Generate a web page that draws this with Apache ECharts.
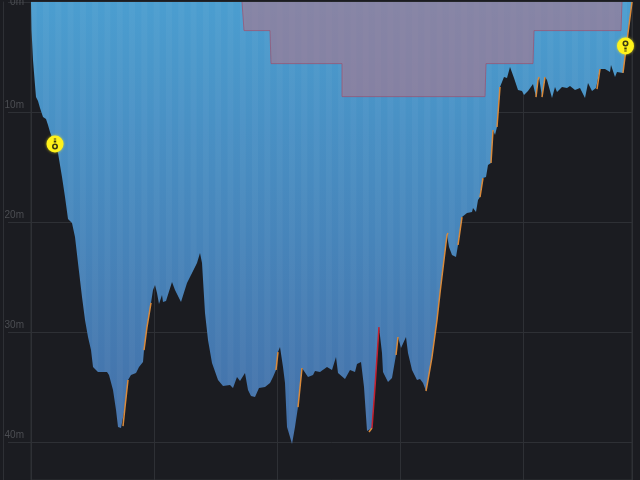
<!DOCTYPE html>
<html>
<head>
<meta charset="utf-8">
<style>
  html, body { margin: 0; padding: 0; background: #1b1c21; overflow: hidden; }
  #chart { width: 640px; height: 480px; }
</style>
<script src="https://cdn.jsdelivr.net/npm/echarts@6/dist/echarts.min.js"></script>
</head>
<body>
<div id="chart"></div>
<script>
// dive profile, one sample is about 5 s
var samples = [0,0.5,2,4,5,7,9,12,15,17,19,22,27,31,34,37,41,44,47,51,54,57,60,62,67,71,73,76,78,80,82,85,87,90,92,94,97,100,102,105,108,112,113,116,120,122,124,126,128,131,132,135,141,144,150,156,160,162,166,169,171,174,177,181,187,192,199,202,206,209,214,217,220,224,228,234,239,242,245,247,249,252,254,256,259,261,264,267,271,272,277,282,284,289,296,301,305,307,314,319,324,326,330,333,336,338,341,344,348,351,352,357,361,363,365,367,370,372,375,377,381,386,389,392,395,397,401,406,409,416,417,418,421,425,427,431,436,441,442,445,447,449,452,455,457,460,462,464,466,469,471,473,476,479,481,483,487,491,493,497,502,505,507,508,511,514,516,521,524,526,531,536,539,544,549,554,557,561,565,566,569,574,579,580,584,586,592,594,597,601];
var depths = [0,2.55,5.27,7.55,8.64,9,9.64,10.45,10.64,11.18,11.82,12.55,13.73,15.91,17.73,19.73,20.09,21.36,23.73,26.82,28.91,30.45,31.64,33.18,33.64,33.64,33.82,33.64,33.91,33.91,35.27,37.09,38.64,38.73,38.55,36.82,34.36,33.91,34.09,33.73,33.18,32.73,31.64,29.55,27.36,26.18,25.73,26.45,27.45,26.64,27.27,27.18,25.45,26.18,27.27,25.55,24.82,24.64,23.73,22.82,23.73,28.27,30.73,32.82,34.36,34.91,34.82,35.09,34.09,34.45,33.73,35.27,35.82,35.91,35.09,35,34.64,34.09,33.45,31.82,31.36,33.18,34.64,38.64,39.55,40.18,38.64,36.82,33.27,33.27,34.09,33.91,33.55,33.64,33.18,33.45,32.27,33.73,34.27,33.45,33.64,32.91,32.73,35,39,39.09,38.73,35,29.55,31.91,33.64,34.55,34.18,34.09,32.09,30.45,31.45,31.55,30.45,31.91,33.45,34.36,34.27,34.64,35.36,34.36,32.27,28.91,26.45,21.18,21,22.27,23,23.18,22.09,19.55,19.18,19.09,18.73,19.09,18,17.73,16,15.91,14.82,14.64,11.64,12.09,11.36,7.73,7.55,6.82,6.91,5.91,5.73,6.91,8,8.09,8.45,8.09,7.45,8.64,7.09,6.82,8.64,6.82,7.09,8.73,7.73,8.18,7.73,7.82,7.64,8,7.82,8.73,7.36,8.09,7.82,7.91,6.09,6.09,6.36,5.73,6.82,6.36,6.45,5,2.82,0];

// deco ceiling
var ceilingSamples = [211,213,239,240,311,311,454,455,502,503,590,591];
var ceilingDepths = [0,2.6,2.6,5.6,5.6,8.6,8.6,5.6,5.6,2.6,2.6,0];

// ascent rate warnings
var fastRanges = [[92,97],[113,120],[245,247],[267,271],[338,341],[365,367],[395,417],[427,431],[449,452],[460,462],[466,469],[505,508],[511,514],[566,569],[592,601]];
var tooFastRanges = [[341,348]];

// gas switches
var markerSamples = [24,594.5];
var markerDepths = [12.91,4];
var markerRotate = [0,180];

var depthTicks = 10;
var bottle = 'path://M0 8a3 3 0 1 0 6 0a3 3 0 1 0 -6 0zM1.6 8a1.4 1.4 0 1 1 2.8 0a1.4 1.4 0 1 1 -2.8 0zM1.8 0h2.4v1h-2.4zM1.8 2h2.4v2h-2.4z';

function pairs(xs, ys) {
  return xs.map(function (x, i) { return [x, ys[i]]; });
}

function pickRanges(ranges) {
  var out = [];
  ranges.forEach(function (r) {
    samples.forEach(function (s, i) {
      if (s >= r[0] && s <= r[1]) out.push([s, depths[i]]);
    });
    out.push([r[1], '-']);
  });
  return out;
}

// water fill: vertical gradient with faint stripes, 10 stripes per grid cell
function waterPattern() {
  var c = document.createElement('canvas');
  c.width = 123;
  c.height = 480;
  var g = c.getContext('2d');
  var grad = g.createLinearGradient(0, 0, 0, 480);
  grad.addColorStop(0, '#4b9ed0');
  grad.addColorStop(1, '#436ba4');
  g.fillStyle = grad;
  g.fillRect(0, 0, 123, 480);
  g.fillStyle = 'rgba(255,255,255,0.035)';
  for (var i = 0; i < 10; i++) {
    g.fillRect(i * 12.3 + 6, 0, 6.15, 480);
  }
  return c;
}

var chart = echarts.init(document.getElementById('chart'));
var lineColor = '#2e3035';

chart.setOption({
  animation: false,
  backgroundColor: '#1b1c21',
  grid: { left: 31, right: 8, top: 2, bottom: 0, outerBoundsMode: 'none', show: true, borderColor: lineColor, borderWidth: 1 },
  xAxis: {
    type: 'value',
    min: 0,
    max: 601,
    interval: 123,
    axisLine: { show: false },
    axisTick: { show: false },
    axisLabel: { show: false },
    splitLine: { show: true, lineStyle: { color: lineColor, width: 1 } }
  },
  yAxis: [{
    type: 'value',
    inverse: true,
    min: 0,
    max: 43.45,
    interval: depthTicks,
    axisLine: { show: false },
    axisTick: { show: true, length: 23, lineStyle: { color: lineColor } },
    axisLabel: {
      formatter: '{value}m',
      color: '#4b4d52',
      fontFamily: 'Liberation Sans',
      fontSize: 10,
      margin: 7,
      verticalAlign: 'bottom',
      verticalAlignMinLabel: 'middle',
      padding: [0, 0, 2, 0],
      showMaxLabel: false
    },
    splitLine: { show: true, lineStyle: { color: lineColor, width: 1 } }
  }, {
    // far left rule
    type: 'value',
    inverse: true,
    min: 0,
    max: 43.45,
    position: 'left',
    offset: 28,
    axisLine: { show: true, lineStyle: { color: lineColor } },
    axisTick: { show: false },
    axisLabel: { show: false },
    splitLine: { show: false }
  }],
  series: [{
    name: 'depth',
    type: 'line',
    data: pairs(samples, depths),
    symbol: 'none',
    lineStyle: { width: 0 },
    areaStyle: { color: { image: waterPattern(), repeat: 'repeat' }, opacity: 1 },
    z: 2
  }, {
    name: 'ceiling',
    type: 'line',
    data: pairs(ceilingSamples, ceilingDepths),
    symbol: 'none',
    lineStyle: { width: 1, color: 'rgba(160,80,110,0.7)' },
    areaStyle: { color: 'rgba(173,117,138,0.6)', opacity: 1 },
    z: 3
  }, {
    name: 'ascent fast',
    type: 'line',
    data: pickRanges(fastRanges),
    symbol: 'none',
    connectNulls: false,
    lineStyle: { width: 1.5, color: '#d98a3c' },
    z: 4
  }, {
    name: 'ascent too fast',
    type: 'line',
    data: pickRanges(tooFastRanges),
    symbol: 'none',
    connectNulls: false,
    lineStyle: { width: 1.5, color: '#c4202e' },
    z: 4
  }, {
    name: 'gas switch',
    type: 'scatter',
    data: pairs(markerSamples, markerDepths),
    symbol: 'circle',
    symbolSize: 17,
    itemStyle: { color: '#fff21a', opacity: 1, shadowBlur: 3, shadowColor: 'rgba(255,242,26,0.7)' },
    z: 5
  }, {
    name: 'gas switch icon',
    type: 'scatter',
    data: markerSamples.map(function (s, i) {
      return { value: [s, markerDepths[i]], symbolRotate: markerRotate[i] };
    }),
    symbol: bottle,
    symbolSize: [6, 11],
    itemStyle: { color: '#3c3a12', opacity: 1 },
    z: 6
  }]
});
</script>
</body>
</html>
